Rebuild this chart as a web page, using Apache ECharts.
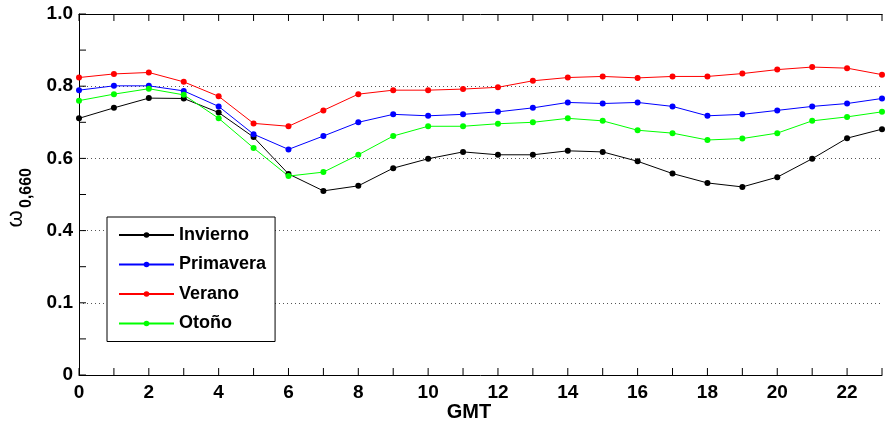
<!DOCTYPE html>
<html>
<head>
<meta charset="utf-8">
<script src="https://cdn.jsdelivr.net/npm/echarts@6/dist/echarts.min.js"></script>
<style>html,body{margin:0;padding:0;background:#fff}#c{width:885px;height:427px}</style>
</head>
<body>
<div id="c"></div>
<script>
const hours = [0,1,2,3,4,5,6,7,8,9,10,11,12,13,14,15,16,17,18,19,20,21,22,23];
const seriesNames = ['Invierno','Primavera','Verano','Otoño'];
const invierno  = [0.711,0.740,0.767,0.766,0.727,0.659,0.557,0.510,0.524,0.573,0.599,0.618,0.610,0.610,0.621,0.618,0.592,0.558,0.532,0.521,0.548,0.599,0.656,0.681];
const primavera = [0.789,0.801,0.801,0.787,0.744,0.667,0.625,0.662,0.700,0.722,0.718,0.722,0.729,0.740,0.755,0.752,0.755,0.744,0.718,0.722,0.733,0.744,0.752,0.766];
const verano    = [0.824,0.834,0.838,0.812,0.772,0.697,0.689,0.733,0.778,0.789,0.789,0.792,0.797,0.815,0.824,0.827,0.823,0.827,0.827,0.835,0.846,0.853,0.850,0.832];
const otono     = [0.760,0.778,0.793,0.776,0.711,0.629,0.551,0.562,0.610,0.662,0.689,0.689,0.696,0.700,0.711,0.704,0.678,0.670,0.651,0.655,0.670,0.704,0.715,0.729];
const yTickValues = [0,0.2,0.4,0.6,0.8,1.0];
const yTickLabels = ['0','0.1','0.4','0.6','0.8','1.0'];
const yMinorTicks = [0,0.1,0.2,0.3,0.4,0.5,0.6,0.7,0.8,0.9,1.0];
const colors = ['#000000','#0000ff','#ff0000','#00ff00'];

const chart = echarts.init(document.getElementById('c'));
const font = 'Liberation Sans, Arial, Helvetica, sans-serif';
const allData = [invierno, primavera, verano, otono];
const TICK = 7;

function pairs(arr){ return hours.map((h,i)=>[h, arr[i]]); }

// tick marks drawn through the axes' own scales (api.coord)
const tickData = [];
hours.forEach(h => { tickData.push([h, 0, 0]); tickData.push([h, 1, 1]); });
yMinorTicks.forEach(v => { tickData.push([0, v, 2]); });

const lines = seriesNames.map((n, i) => ({
  name: n, type: 'line', data: pairs(allData[i]),
  symbol: 'circle', symbolSize: 6,
  itemStyle: { color: colors[i] },
  lineStyle: { color: colors[i], width: 1 },
  z: 3
}));

lines.push({
  name: 'ticks', type: 'custom', silent: true, clip: false, z: 4,
  data: tickData,
  renderItem: function (params, api) {
    const p = api.coord([api.value(0), api.value(1)]);
    const kind = api.value(2);
    let x2 = p[0], y2 = p[1];
    if (kind === 0) y2 = p[1] - TICK;
    else if (kind === 1) y2 = p[1] + TICK;
    else x2 = p[0] + TICK;
    return { type: 'line', shape: { x1: p[0], y1: p[1], x2: x2, y2: y2 },
      style: { stroke: '#000', lineWidth: 1 } };
  }
});

chart.setOption({
  animation: false,
  backgroundColor: '#fff',
  grid: { left: 79, top: 14, width: 811, height: 361, containLabel: false },
  xAxis: [{
    type: 'value', min: 0, max: 23, interval: 1,
    axisLine: { show: true, lineStyle: { color: '#000', width: 1 } },
    axisTick: { show: false },
    axisLabel: { margin: 8, color: '#000', fontFamily: font, fontWeight: 'bold', fontSize: 19,
      formatter: v => (v % 2 === 0 ? String(v) : '') },
    splitLine: { show: false }
  },{
    type: 'value', min: 0, max: 23, interval: 1, position: 'top', z: 5,
    axisLine: { show: true, onZero: false, lineStyle: { color: '#000', width: 1 } },
    axisTick: { show: false },
    axisLabel: { show: false },
    splitLine: { show: false }
  }],
  yAxis: {
    type: 'value', min: 0, max: 1, interval: 0.2,
    axisLine: { show: true, lineStyle: { color: '#000', width: 1 } },
    axisTick: { show: false },
    axisLabel: { margin: 6, color: '#000', fontFamily: font, fontWeight: 'bold', fontSize: 19,
      formatter: v => { const i = yTickValues.findIndex(t => Math.abs(t - v) < 1e-6); return i >= 0 ? yTickLabels[i] : ''; } },
    splitLine: { show: true, lineStyle: { color: '#555', width: 1, type: [1, 3] } }
  },
  legend: {
    orient: 'vertical', left: 107, top: 217,
    backgroundColor: '#fff', borderColor: '#000', borderWidth: 1,
    padding: [8, 9, 8, 11],
    itemWidth: 55, itemHeight: 7, itemGap: 9.5,
    textStyle: { color: '#000', fontFamily: font, fontWeight: 'bold', fontSize: 18, lineHeight: 20 },
    data: seriesNames
  },
  graphic: [
    { type: 'text', x: 16, y: 219, rotation: Math.PI / 2,
      style: { text: 'ω', fill: '#000', font: '22px ' + font, align: 'center', verticalAlign: 'middle' } },
    { type: 'text', x: 27, y: 188, rotation: Math.PI / 2,
      style: { text: '0,660', fill: '#000', font: 'bold 16px ' + font, align: 'center', verticalAlign: 'middle' } },
    { type: 'text', x: 469, y: 412,
      style: { text: 'GMT', fill: '#000', font: 'bold 20px ' + font, align: 'center', verticalAlign: 'middle' } }
  ],
  series: lines
});
</script>
</body>
</html>
